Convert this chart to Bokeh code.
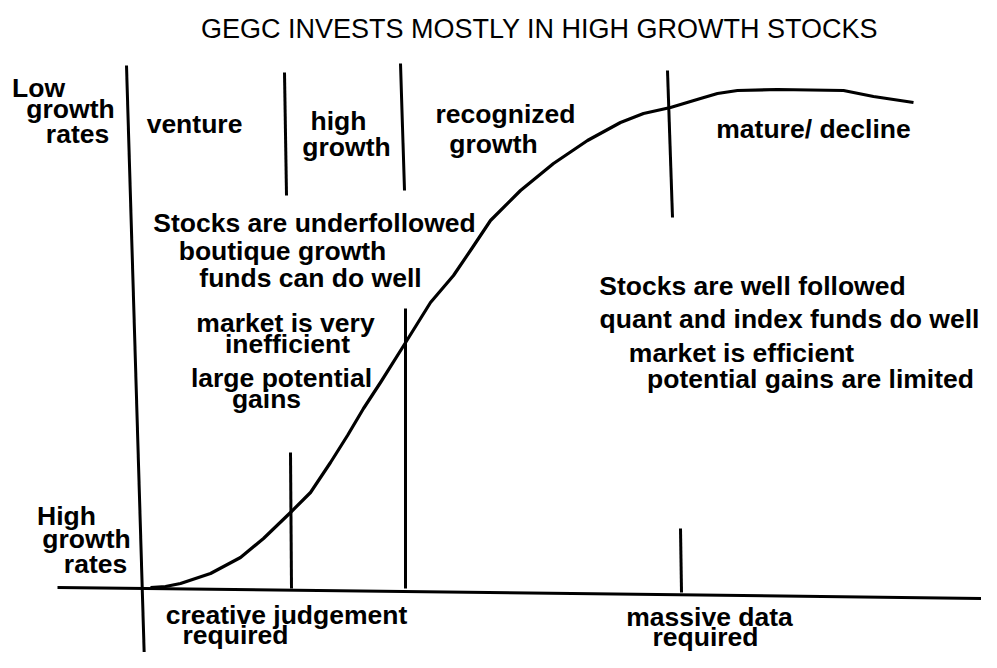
from bokeh.plotting import figure
from bokeh.models import Range1d, ColumnDataSource
from bokeh.core.properties import value
from bokeh.embed import file_html
from bokeh.resources import INLINE

# S-curve (diagram units, y grows downward)
curve_x = [150, 165, 180, 210, 240, 263, 290, 310, 330, 347, 363, 380, 402,
           430, 453, 472, 490, 520, 553, 587, 620, 643, 670, 700, 717, 737,
           777, 843, 873, 913]
curve_y = [592, 591, 588, 578, 562, 543, 517, 497, 467, 440, 413, 387, 352,
           307, 280, 252, 225, 195, 168, 145, 127, 118, 112, 103, 98, 95,
           94, 95, 101, 107]

# Straight strokes (vertical dividers + baseline)
stroke_x0 = [126, 284, 400, 667, 405, 290, 680, 57]
stroke_y0 = [70, 77, 68, 75, 313, 457, 533, 592]
stroke_x1 = [144, 286, 404, 672, 405, 291, 681, 985]
stroke_y1 = [668, 200, 195, 222, 593, 593, 597, 603]

# Labels: text, centre x, baseline y
label_text = ["Low", "growth", "rates",
              "venture", "high", "growth", "recognized", "growth", "mature/ decline",
              "Stocks are underfollowed", "boutique growth", "funds can do well",
              "market is very", "inefficient", "large potential", "gains",
              "Stocks are well followed", "quant and index funds do well",
              "market is efficient", "potential gains are limited",
              "High", "growth", "rates",
              "creative judgement", "required", "massive data", "required"]
label_x = [38, 70, 77,
           194, 338, 346, 505, 493, 813,
           314, 282, 310,
           285, 287, 281, 266,
           752, 789,
           741, 810,
           66, 86, 95,
           286, 235, 709, 705]
label_y = [92, 113, 138,
           128, 125, 151, 118, 148, 133,
           227, 255, 282,
           327, 348, 382, 403,
           290, 323,
           357, 383,
           520, 543, 568,
           619, 639, 621, 641]

title_text = "GEGC INVESTS MOSTLY IN HIGH GROWTH STOCKS"
title_x = 539
title_y = 33

p = figure(width=981, height=652, output_backend="svg", toolbar_location=None,
           x_range=Range1d(0, 981), y_range=Range1d(657, 5),
           min_border=0, background_fill_color="white", border_fill_color="white")
p.axis.visible = False
p.grid.visible = False
p.outline_line_color = None

p.line(curve_x, curve_y, line_color="black", line_width=3.2, line_join="round")
p.segment(x0=stroke_x0, y0=stroke_y0, x1=stroke_x1, y1=stroke_y1,
          line_color="black", line_width=3)

src = ColumnDataSource(dict(x=label_x, y=label_y, t=label_text))
p.text(x="x", y="y", text="t", source=src, text_font=value("Liberation Sans"),
       text_font_size="26.5px", text_font_style="bold", text_color="black",
       text_align="center", text_baseline="alphabetic")

p.text(x=[title_x], y=[title_y], text=[title_text], text_font=value("Liberation Sans"),
       text_font_size="27px", text_font_style="normal", text_color="black",
       text_align="center", text_baseline="alphabetic")

open("out.html", "w").write(file_html(p, INLINE))
